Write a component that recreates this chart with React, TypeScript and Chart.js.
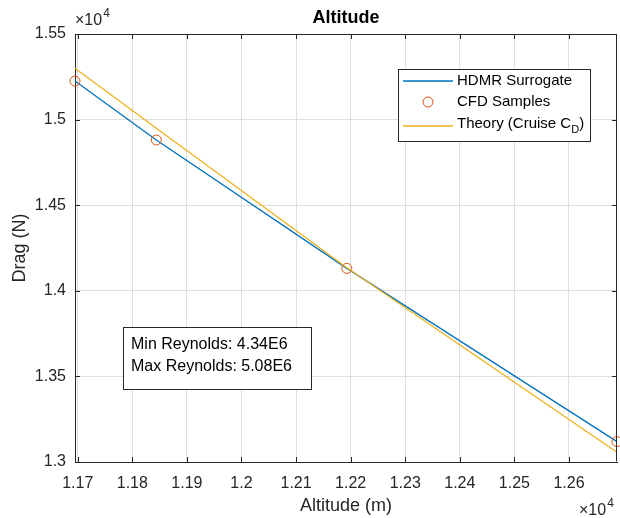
import React, { useEffect, useRef } from "react";
import { Chart, registerables } from "chart.js";

Chart.register(...registerables);

// ---- data ----
const altitude = [11695, 11844, 12193, 12688];
const hdmrDrag = [15225, 14881, 14131, 13119];
const cfdAltitude = [11695, 11844, 12193, 12688];
const cfdDrag = [15225, 14881, 14131, 13119];
const theoryAltitude = [11695, 11844, 12193, 12688];
const theoryDrag = [15300, 14950, 14135, 13057];

const xTicks = [11700, 11800, 11900, 12000, 12100, 12200, 12300, 12400, 12500, 12600];
const xTickLabels = ["1.17", "1.18", "1.19", "1.2", "1.21", "1.22", "1.23", "1.24", "1.25", "1.26"];
const yTicks = [13000, 13500, 14000, 14500, 15000, 15500];
const yTickLabels = ["1.3", "1.35", "1.4", "1.45", "1.5", "1.55"];

const legendLabels = ["HDMR Surrogate", "CFD Samples", "Theory (Cruise C", "D", ")"];
const noteLines = ["Min Reynolds: 4.34E6", "Max Reynolds: 5.08E6"];

const BLUE = "#0072BD";
const ORANGE = "#D95319";
const YELLOW = "#EDB120";
const AXIS = "#262626";
const FONT = "'Liberation Sans', Arial, Helvetica, sans-serif";

const decorPlugin = {
  id: "matlabDecor",
  afterDatasetsDraw(chart: any) {
    const ctx = chart.ctx as CanvasRenderingContext2D;
    const a = chart.chartArea;
    const xs = chart.scales.x;
    const ys = chart.scales.y;
    ctx.save();
    ctx.strokeStyle = AXIS;
    ctx.lineWidth = 1;
    ctx.beginPath();
    ctx.moveTo(Math.round(a.left) + 0.5, Math.round(a.top) + 0.5);
    ctx.lineTo(Math.round(a.right) - 0.5, Math.round(a.top) + 0.5);
    ctx.lineTo(Math.round(a.right) - 0.5, Math.round(a.bottom) - 0.5);
    ctx.stroke();
    const tl = 5;
    ctx.beginPath();
    xTicks.forEach((v) => {
      const px = Math.round(xs.getPixelForValue(v)) + 0.5;
      ctx.moveTo(px, a.bottom);
      ctx.lineTo(px, a.bottom - tl);
      ctx.moveTo(px, a.top);
      ctx.lineTo(px, a.top + tl);
    });
    yTicks.forEach((v) => {
      const py = Math.round(ys.getPixelForValue(v)) + 0.5;
      ctx.moveTo(a.left, py);
      ctx.lineTo(a.left + tl, py);
      ctx.moveTo(a.right, py);
      ctx.lineTo(a.right - tl, py);
    });
    ctx.stroke();
    ctx.restore();
  },
  afterDraw(chart: any) {
    const ctx = chart.ctx as CanvasRenderingContext2D;
    const a = chart.chartArea;
    const cx = (a.left + a.right) / 2;
    ctx.save();
    ctx.fillStyle = "#000";
    ctx.textAlign = "center";
    ctx.textBaseline = "middle";
    ctx.font = `bold 18px ${FONT}`;
    ctx.fillText("Altitude", cx, 18);
    ctx.fillStyle = AXIS;
    ctx.font = `18px ${FONT}`;
    ctx.fillText("Altitude (m)", cx, 506);
    ctx.save();
    ctx.translate(20, (a.top + a.bottom) / 2);
    ctx.rotate(-Math.PI / 2);
    ctx.fillText("Drag (N)", 0, 0);
    ctx.restore();
    const drawExp = (x: number, y: number) => {
      ctx.textAlign = "left";
      ctx.textBaseline = "alphabetic";
      ctx.font = `16px ${FONT}`;
      ctx.fillText("\u00d710", x, y);
      const w = ctx.measureText("\u00d710").width;
      ctx.font = `12px ${FONT}`;
      ctx.fillText("4", x + w + 1, y - 8);
    };
    drawExp(a.left, 25);
    drawExp(579, 515);

    // legend
    const lx = 398.5, ly = 69.5, lw = 192, lh = 72;
    ctx.fillStyle = "#fff";
    ctx.fillRect(lx, ly, lw, lh);
    ctx.strokeStyle = AXIS;
    ctx.lineWidth = 1;
    ctx.strokeRect(lx, ly, lw, lh);
    const rows = [81, 102, 124];
    ctx.lineWidth = 1.3;
    ctx.strokeStyle = BLUE;
    ctx.beginPath();
    ctx.moveTo(403, rows[0]);
    ctx.lineTo(453, rows[0]);
    ctx.stroke();
    ctx.strokeStyle = ORANGE;
    ctx.lineWidth = 1;
    ctx.beginPath();
    ctx.arc(428, rows[1], 5, 0, Math.PI * 2);
    ctx.stroke();
    ctx.strokeStyle = YELLOW;
    ctx.lineWidth = 1.3;
    ctx.beginPath();
    ctx.moveTo(403, rows[2] + 2);
    ctx.lineTo(453, rows[2] + 2);
    ctx.stroke();
    ctx.fillStyle = "#000";
    ctx.textAlign = "left";
    ctx.textBaseline = "middle";
    ctx.font = `15px ${FONT}`;
    ctx.fillText(legendLabels[0], 457, rows[0]);
    ctx.fillText(legendLabels[1], 457, rows[1]);
    ctx.fillText(legendLabels[2], 457, rows[2]);
    let tx = 457 + ctx.measureText(legendLabels[2]).width;
    ctx.font = `11px ${FONT}`;
    ctx.fillText(legendLabels[3], tx, rows[2] + 6);
    tx += ctx.measureText(legendLabels[3]).width;
    ctx.font = `15px ${FONT}`;
    ctx.fillText(legendLabels[4], tx, rows[2]);

    // annotation
    const bx = 123.5, by = 327.5, bw = 188, bh = 62;
    ctx.fillStyle = "#fff";
    ctx.fillRect(bx, by, bw, bh);
    ctx.strokeStyle = AXIS;
    ctx.lineWidth = 1;
    ctx.strokeRect(bx, by, bw, bh);
    ctx.fillStyle = "#000";
    ctx.font = `16px ${FONT}`;
    ctx.fillText(noteLines[0], 131, 345);
    ctx.fillText(noteLines[1], 131, 367);
    ctx.restore();
  },
};

export default function App() {
  const ref = useRef<HTMLCanvasElement>(null);
  useEffect(() => {
    document.body.style.margin = "0";
    const canvas = ref.current!;
    const chart = new Chart(canvas, {
      type: "scatter",
      data: {
        datasets: [
          {
            label: "HDMR Surrogate",
            data: altitude.map((x, i) => ({ x, y: hdmrDrag[i] })),
            showLine: true,
            borderColor: BLUE,
            borderWidth: 1.3,
            pointRadius: 0,
            fill: false,
            order: 2,
            clip: false,
          },
          {
            label: "CFD Samples",
            data: cfdAltitude.map((x, i) => ({ x, y: cfdDrag[i] })),
            showLine: false,
            pointRadius: 5,
            pointBorderWidth: 1,
            pointBorderColor: ORANGE,
            pointBackgroundColor: "rgba(0,0,0,0)",
            borderColor: ORANGE,
            backgroundColor: "rgba(0,0,0,0)",
            order: 1,
            clip: false,
          },
          {
            label: "Theory (Cruise CD)",
            data: theoryAltitude.map((x, i) => ({ x, y: theoryDrag[i] })),
            showLine: true,
            borderColor: YELLOW,
            borderWidth: 1.3,
            pointRadius: 0,
            fill: false,
            order: 0,
            clip: false,
          },
        ],
      },
      options: {
        animation: false,
        responsive: false,
        devicePixelRatio: 1,
        layout: { autoPadding: false, padding: { top: 34, right: 3, left: 0, bottom: 0 } },
        plugins: {
          legend: { display: false },
          title: { display: false },
          tooltip: { enabled: false },
        },
        scales: {
          x: {
            type: "linear",
            min: 11695,
            max: 12688,
            afterBuildTicks: (s: any) => {
              s.ticks = xTicks.map((v) => ({ value: v }));
            },
            afterFit: (s: any) => {
              s.height = 56;
              s.paddingLeft = 0;
              s.paddingRight = 0;
            },
            ticks: {
              autoSkip: false,
              maxRotation: 0,
              padding: 12,
              color: AXIS,
              font: { family: FONT, size: 16 },
              callback: (v: any) => xTickLabels[xTicks.indexOf(Number(v))] ?? "",
            },
            grid: { color: "#dfdfdf", lineWidth: 1, drawTicks: false },
            border: { display: true, color: AXIS, width: 1 },
          },
          y: {
            type: "linear",
            min: 13000,
            max: 15500,
            afterBuildTicks: (s: any) => {
              s.ticks = yTicks.map((v) => ({ value: v }));
            },
            afterFit: (s: any) => {
              s.width = 75;
              s.paddingTop = 0;
              s.paddingBottom = 0;
            },
            ticks: {
              autoSkip: false,
              padding: 9,
              color: AXIS,
              font: { family: FONT, size: 16 },
              callback: (v: any) => yTickLabels[yTicks.indexOf(Number(v))] ?? "",
            },
            grid: { color: "#dfdfdf", lineWidth: 1, drawTicks: false },
            border: { display: true, color: AXIS, width: 1 },
          },
        },
      },
      plugins: [decorPlugin],
    } as any);
    return () => chart.destroy();
  }, []);
  return (
    <div style={{ width: 620, height: 518, background: "#fff" }}>
      <canvas ref={ref} width={620} height={518} style={{ width: 620, height: 518, display: "block" }} />
    </div>
  );
}
